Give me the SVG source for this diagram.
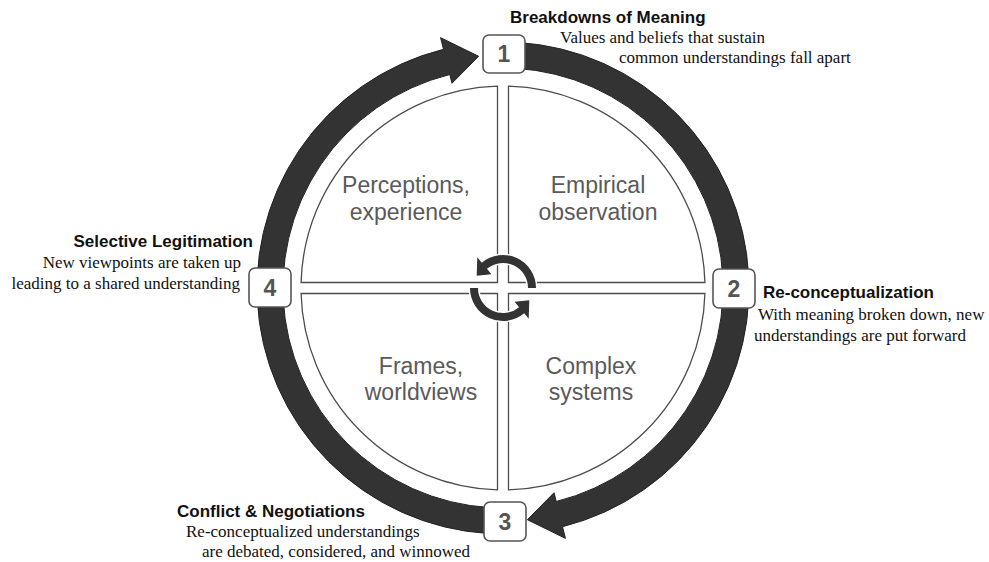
<svg xmlns="http://www.w3.org/2000/svg" width="989" height="562" viewBox="0 0 989 562">
  <style>
    .quad { fill: #fff; stroke: #4d4d4d; stroke-width: 1.3; }
    .ring { fill: #333; stroke: #222; stroke-width: 1; stroke-linejoin: miter; }
    .spin { fill: #333; stroke: #fff; stroke-width: 3; paint-order: stroke; stroke-linejoin: round; }
    .box { fill: #fff; stroke: #555; stroke-width: 1.6; }
    .num { font-family: "Liberation Sans", Arial, sans-serif; font-weight: bold; font-size: 23px; fill: #555; text-anchor: middle; }
    .qlabel { font-family: "Liberation Sans", Arial, sans-serif; font-size: 23px; fill: #5a5a5a; text-anchor: middle; }
    .title { font-family: "Liberation Sans", Arial, sans-serif; font-weight: bold; font-size: 17px; fill: #111; }
    .desc { font-family: "Liberation Serif", "Times New Roman", serif; font-size: 17px; fill: #111; }
  </style>

  <rect width="989" height="562" fill="#fff"/>

  <!-- four quadrants of the inner circle -->
  <g id="quadrants">
    <g id="q-perceptions">
      <path class="quad" d="M497.5,282.5 V86.08 A202,202 0 0 0 301.08,282.5 Z"/>
      <text class="qlabel" x="406" y="193">Perceptions,</text>
      <text class="qlabel" x="406" y="220">experience</text>
    </g>
    <g id="q-empirical">
      <path class="quad" d="M508.5,282.5 H704.92 A202,202 0 0 0 508.5,86.08 Z"/>
      <text class="qlabel" x="598" y="193">Empirical</text>
      <text class="qlabel" x="598" y="220">observation</text>
    </g>
    <g id="q-complex">
      <path class="quad" d="M508.5,293.5 V489.92 A202,202 0 0 0 704.92,293.5 Z"/>
      <text class="qlabel" x="591" y="374">Complex</text>
      <text class="qlabel" x="591" y="400">systems</text>
    </g>
    <g id="q-frames">
      <path class="quad" d="M497.5,293.5 H301.08 A202,202 0 0 0 497.5,489.92 Z"/>
      <text class="qlabel" x="421" y="374">Frames,</text>
      <text class="qlabel" x="421" y="400">worldviews</text>
    </g>
  </g>

  <!-- connectors: the outer cycle arrows and the central rotation arrows -->
  <g id="connectors">
    <path id="arrow-1-to-3" class="ring" d="M494.41,42.15 A246,246 0 0 1 562.51,526.69 L565.42,538.33 L527.35,519.72 L554.04,492.73 L556.22,501.47 A220,220 0 0 0 495.32,68.13 Z"/>
    <path id="arrow-3-to-1" class="ring" d="M511.59,533.85 A246,246 0 0 1 443.49,49.31 L440.58,37.67 L478.65,56.28 L451.96,83.27 L449.78,74.53 A220,220 0 0 0 510.68,507.87 Z"/>
    <path id="spin-top" class="spin" d="M536,288 A33,33 0 0 0 481.79,262.72 L477.29,257.36 L476.72,275.74 L491.43,274.21 L486.93,268.85 A25,25 0 0 1 528,288 Z"/>
    <path id="spin-bottom" class="spin" d="M470,288 A33,33 0 0 0 524.21,313.28 L528.71,318.64 L529.28,300.26 L514.57,301.79 L519.07,307.15 A25,25 0 0 1 478,288 Z"/>
  </g>

  <!-- stage 1 -->
  <g id="stage-1">
    <rect class="box" x="483" y="35" width="42" height="38" rx="6"/>
    <text class="num" x="504" y="62">1</text>
    <text class="title" x="510" y="23">Breakdowns of Meaning</text>
    <text class="desc" x="560" y="43">Values and beliefs that sustain</text>
    <text class="desc" x="619" y="63">common understandings fall apart</text>
  </g>

  <!-- stage 2 -->
  <g id="stage-2">
    <rect class="box" x="713" y="269" width="42" height="39" rx="6"/>
    <text class="num" x="734" y="297">2</text>
    <text class="title" x="763" y="298">Re-conceptualization</text>
    <text class="desc" x="758" y="320">With meaning broken down, new</text>
    <text class="desc" x="754" y="341">understandings are put forward</text>
  </g>

  <!-- stage 3 -->
  <g id="stage-3">
    <rect class="box" x="484" y="502" width="42" height="39" rx="6"/>
    <text class="num" x="505" y="530">3</text>
    <text class="title" x="177" y="517">Conflict &amp; Negotiations</text>
    <text class="desc" x="186" y="537">Re-conceptualized understandings</text>
    <text class="desc" x="202" y="557">are debated, considered, and winnowed</text>
  </g>

  <!-- stage 4 -->
  <g id="stage-4">
    <rect class="box" x="249" y="268" width="42" height="39" rx="6"/>
    <text class="num" x="270" y="296">4</text>
    <text class="title" x="253" y="247" text-anchor="end">Selective Legitimation</text>
    <text class="desc" x="241" y="268" text-anchor="end">New viewpoints are taken up</text>
    <text class="desc" x="240" y="289" text-anchor="end">leading to a shared understanding</text>
  </g>
</svg>
